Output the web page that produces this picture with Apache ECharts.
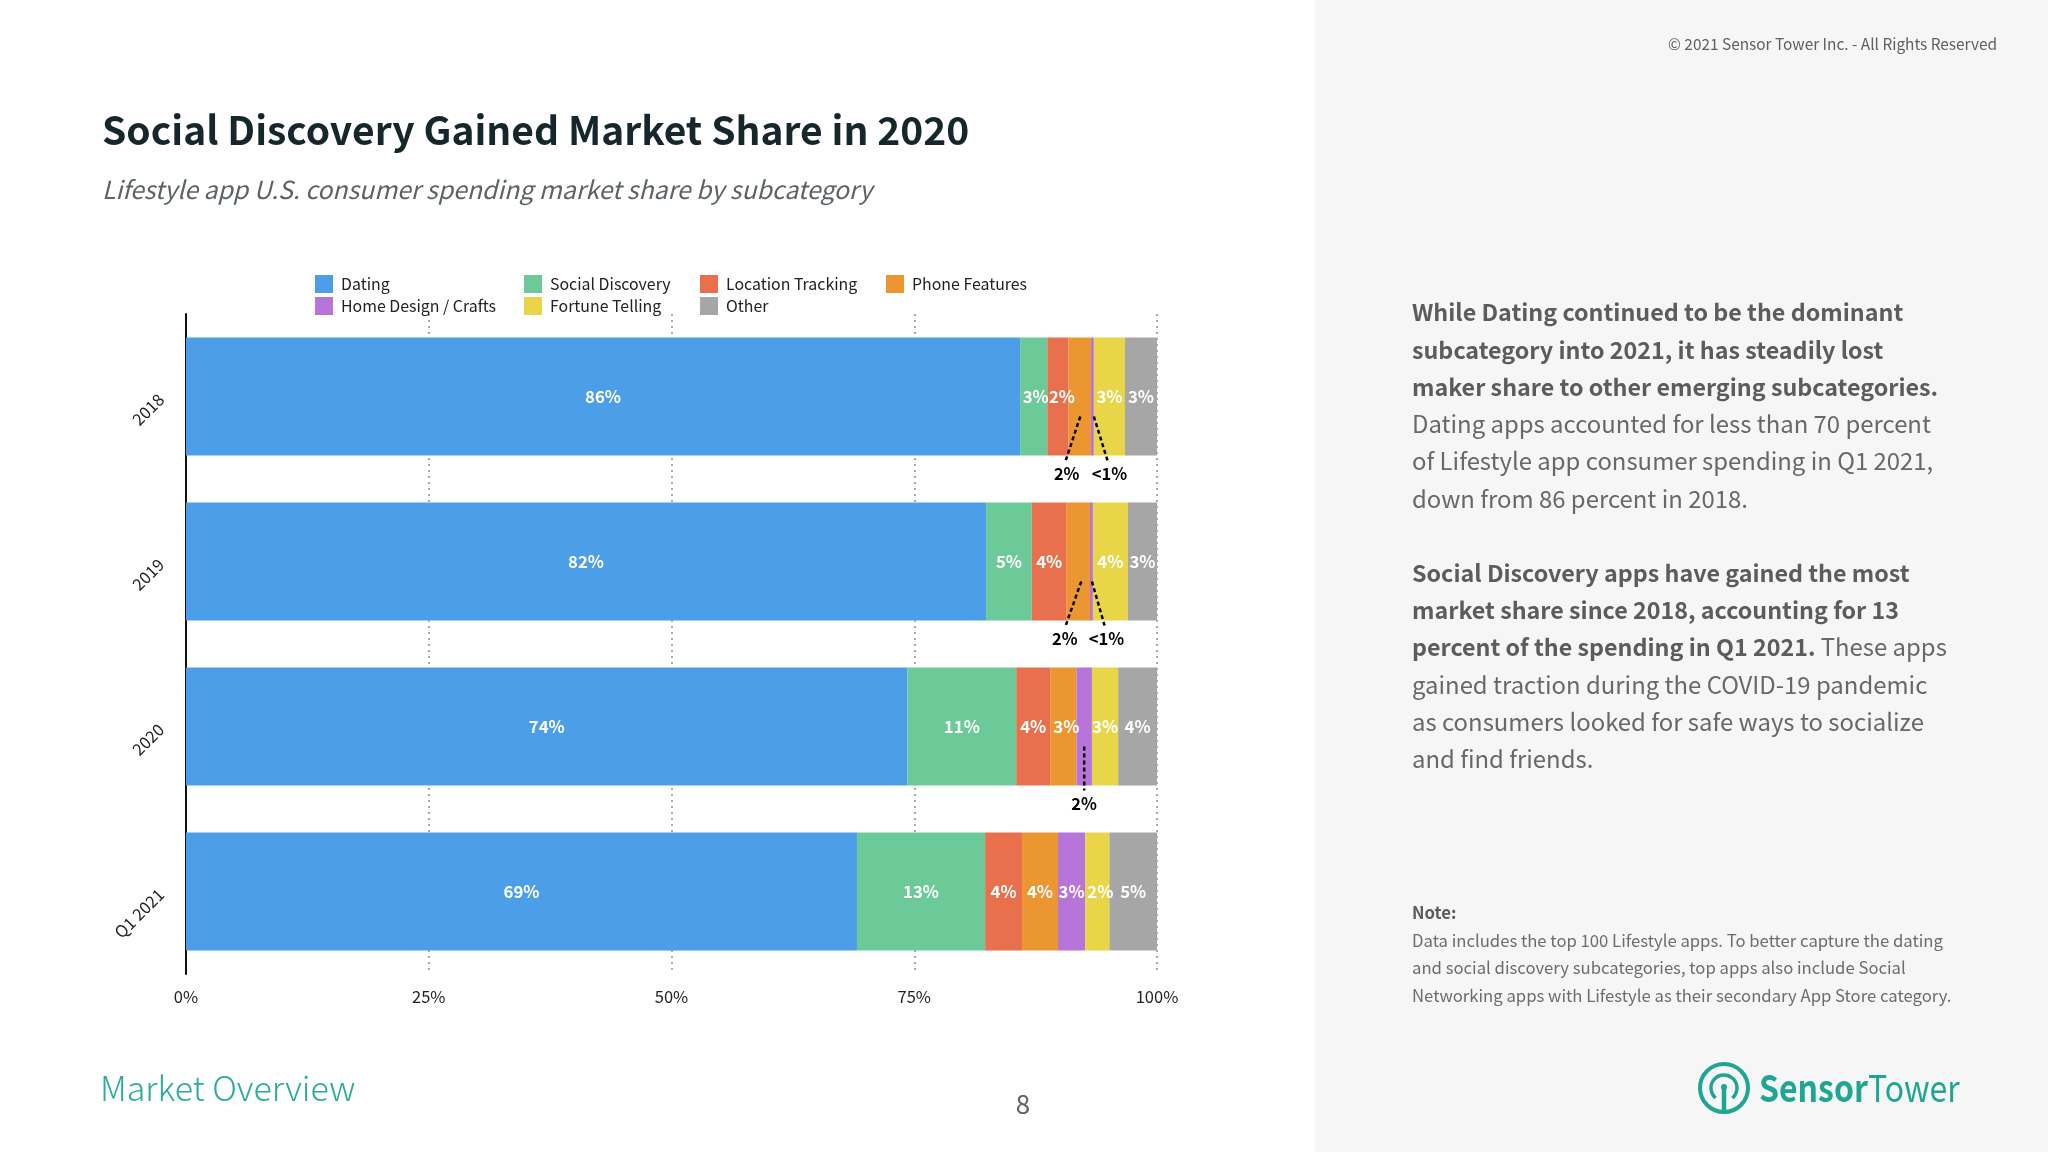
<!DOCTYPE html>
<html>
<head>
<meta charset="utf-8">
<title>Social Discovery Gained Market Share in 2020</title>
<script src="https://cdn.jsdelivr.net/npm/echarts@6/dist/echarts.min.js"></script>
<style>
html,body{margin:0;padding:0;background:#fff;}
#chart{width:2048px;height:1152px;}
</style>
</head>
<body>
<div id="chart"></div>
<script>
var FONT = '"Noto Sans CJK SC","Noto Sans",sans-serif';

var categories = ['2018','2019','2020','Q1 2021'];
var axisTicks = [0,25,50,75,100];

//market share per subcategory, one value per category
var dating         = [85.9,82.4,74.3,69.1];
var socialDiscovery= [2.8,4.7,11.2,13.2];
var locationTrack  = [2.2,3.6,3.5,3.8];
var phoneFeatures  = [2.3,2.4,2.7,3.7];
var homeDesign     = [0.3,0.3,1.6,2.8];
var fortuneTelling = [3.2,3.6,2.7,2.5];
var other          = [3.3,3.0,4.0,4.9];

//printed labels, empty where the label sits under the bar
var datingLabels   = ['86%','82%','74%','69%'];
var socialLabels   = ['3%','5%','11%','13%'];
var locationLabels = ['2%','4%','4%','4%'];
var phoneLabels    = ['','','3%','4%'];
var homeLabels     = ['','','','3%'];
var fortuneLabels  = ['3%','4%','3%','2%'];
var otherLabels    = ['3%','3%','4%','5%'];

//callouts: category index, line start %, line end %, text %, text
var callouts = [
    [0,92.1,90.6,90.7,'2%'],
    [0,93.5,94.9,95.1,'<1%'],
    [1,92.2,90.6,90.5,'2%'],
    [1,93.3,94.6,94.8,'<1%'],
    [2,92.5,92.5,92.5,'2%']
];

var seriesNames = ['Dating','Social Discovery','Location Tracking','Phone Features','Home Design / Crafts','Fortune Telling','Other'];
var seriesColors = ['#4c9ee9','#6bca97','#e8704c','#ec9632','#b875d9','#e8d548','#a6a6a6'];
var seriesValues = [dating,socialDiscovery,locationTrack,phoneFeatures,homeDesign,fortuneTelling,other];
var seriesLabels = [datingLabels,socialLabels,locationLabels,phoneLabels,homeLabels,fortuneLabels,otherLabels];

//labels that were moved sideways by hand in the original, series:category
var labelNudge = {'1:0':2,'2:0':4,'3:2':3,'5:3':3};

var legendColumns = [
    {left:315,names:['Dating','Home Design / Crafts']},
    {left:524,names:['Social Discovery','Fortune Telling']},
    {left:700,names:['Location Tracking','Other']},
    {left:886,names:['Phone Features']}
];

var titleText = 'Social Discovery Gained Market Share in 2020';
var subtitleText = 'Lifestyle app U.S. consumer spending market share by subcategory';
var bodyLines = [
    '{b|While Dating continued to be the dominant}',
    '{b|subcategory into 2021, it has steadily lost}',
    '{b|maker share to other emerging subcategories.}',
    '{n|Dating apps accounted for less than 70 percent}',
    '{n|of Lifestyle app consumer spending in Q1 2021,}',
    '{n|down from 86 percent in 2018.}',
    '',
    '{b|Social Discovery apps have gained the most}',
    '{b|market share since 2018, accounting for 13}',
    '{b|percent of the spending in Q1 2021.} {n|These apps}',
    '{n|gained traction during the COVID-19 pandemic}',
    '{n|as consumers looked for safe ways to socialize}',
    '{n|and find friends.}'
];
var noteLines = [
    'Data includes the top 100 Lifestyle apps. To better capture the dating',
    'and social discovery subcategories, top apps also include Social',
    'Networking apps with Lifestyle as their secondary App Store category.'
];

var TEAL = '#1fa693';

function text(x,y,str,size,color,extra){
    var style = {x:x,y:y,text:str,fontFamily:FONT,fontSize:size,fill:color,verticalAlign:'middle'};
    for(var k in extra){ style[k] = extra[k]; }
    return {type:'text',silent:true,style:style};
}

function buildGraphic(){
    var g = [];
    g.push({type:'rect',silent:true,z:-1,shape:{x:1315,y:0,width:733,height:1152},style:{fill:'#f6f6f6'}});
    g.push(text(102,130,titleText,39,'#16272c',{fontWeight:'bold'}));
    g.push(text(102,190,subtitleText,24.8,'#5c6366',{fontStyle:'italic'}));
    g.push(text(1997,44.5,'© 2021 Sensor Tower Inc. - All Rights Reserved',15.4,'#5f5f5f',{align:'right'}));
    bodyLines.forEach(function(line,i){
        if(!line) return;
        g.push(text(1412,312.5+i*37.2,line,23.3,'#5f6163',{
            rich:{
                b:{fontFamily:FONT,fontSize:23.3,fontWeight:'bold',fill:'#5a5c5e'},
                n:{fontFamily:FONT,fontSize:23.9,fill:'#66686a'}
            }
        }));
    });
    g.push(text(1412,913,'Note:',16.7,'#5a5c5e',{fontWeight:'bold'}));
    noteLines.forEach(function(line,i){
        g.push(text(1412,940.5+i*27.5,line,16.7,'#6a6c6e'));
    });
    g.push(text(100,1088,'Market Overview',34,'#2aab9a',{fontWeight:300}));
    g.push(text(1023,1104,'8',26,'#5f6163',{align:'center'}));
    //logo
    g.push({type:'circle',silent:true,shape:{cx:1724,cy:1088,r:24},style:{fill:'none',stroke:TEAL,lineWidth:4}});
    g.push({type:'arc',silent:true,shape:{cx:1724,cy:1088,r:13,startAngle:Math.PI*0.72,endAngle:Math.PI*0.28,clockwise:true},style:{fill:'none',stroke:TEAL,lineWidth:3.5}});
    g.push({type:'line',silent:true,shape:{x1:1724,y1:1088,x2:1724,y2:1111},style:{stroke:TEAL,lineWidth:4.5}});
    g.push({type:'circle',silent:true,shape:{cx:1724,cy:1087,r:3},style:{fill:TEAL}});
    var logoText = text(0,0,'{b|Sensor}{n|Tower}',37,TEAL,{
        rich:{
            b:{fontFamily:FONT,fontSize:37,fontWeight:'bold',fill:TEAL},
            n:{fontFamily:FONT,fontSize:37,fill:TEAL}
        }
    });
    logoText.x = 1759;
    logoText.y = 1088;
    logoText.scaleX = 0.865;
    g.push(logoText);
    return g;
}

function renderCallout(params,api){
    var cat = api.value(0);
    var start = api.coord([api.value(1),cat]);
    var end = api.coord([api.value(2),cat]);
    var label = api.coord([api.value(3),cat]);
    return {
        type:'group',
        children:[
            {type:'line',shape:{x1:start[0],y1:start[1]+20,x2:end[0],y2:end[1]+64},
                style:{stroke:'#000',lineWidth:2.5,lineDash:[4,3]}},
            {type:'text',style:{x:label[0],y:label[1]+77,text:String(api.value(4)),fontFamily:FONT,fontSize:16.5,fontWeight:'bold',fill:'#000',align:'center',verticalAlign:'middle'}}
        ]
    };
}

var series = seriesNames.map(function(name,i){
    return {
        name:name,
        type:'bar',
        stack:'share',
        barWidth:118,
        itemStyle:{color:seriesColors[i]},
        label:{
            show:true,
            position:'inside',
            color:'#fff',
            fontFamily:FONT,
            fontSize:16.8,
            fontWeight:'bold',
            formatter:function(p){ return seriesLabels[i][p.dataIndex]; }
        },
        data:seriesValues[i].map(function(v,j){
            var nudge = labelNudge[i+':'+j];
            return nudge ? {value:v,label:{offset:[nudge,0]}} : v;
        })
    };
});
series.push({
    type:'custom',
    renderItem:renderCallout,
    encode:{x:1,y:0},
    z:5,
    data:callouts
});

var chart = echarts.init(document.getElementById('chart'),null,{renderer:'canvas'});
chart.setOption({
    animation:false,
    backgroundColor:'#fff',
    textStyle:{fontFamily:FONT},
    legend:legendColumns.map(function(col){
        return {
            left:col.left,
            top:275,
            orient:'vertical',
            icon:'rect',
            itemWidth:18,
            itemHeight:18,
            itemGap:4,
            selectedMode:false,
            padding:0,
            textStyle:{fontFamily:FONT,fontSize:15.9,color:'#222',padding:[0,0,0,3]},
            data:col.names
        };
    }),
    grid:{left:186,top:314,width:971,height:660},
    xAxis:{
        type:'value',
        min:axisTicks[0],
        max:axisTicks[axisTicks.length-1],
        interval:axisTicks[1]-axisTicks[0],
        axisLine:{show:false},
        axisTick:{show:false},
        axisLabel:{formatter:'{value}%',fontFamily:FONT,fontSize:16.5,color:'#222',margin:14},
        splitLine:{show:true,lineStyle:{color:'#aaa',type:[2,4],width:2}}
    },
    yAxis:{
        type:'category',
        inverse:true,
        data:categories,
        axisLine:{show:true,lineStyle:{color:'#111',width:2}},
        axisTick:{show:false},
        axisLabel:{rotate:45,fontFamily:FONT,fontSize:16.5,color:'#222',margin:25}
    },
    graphic:buildGraphic(),
    series:series
});
</script>
</body>
</html>
